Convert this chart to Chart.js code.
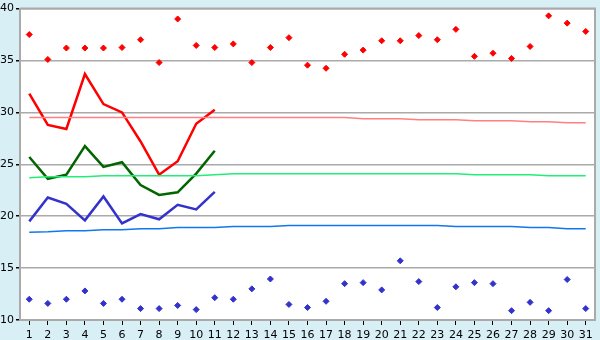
<!DOCTYPE html>
<html>
<head>
<meta charset="utf-8">
<script src="https://cdn.jsdelivr.net/npm/chart.js@4"></script>
<style>
  html, body { margin: 0; padding: 0; background: #d9eff6; }
  #wrap { width: 600px; height: 340px; }
</style>
</head>
<body>
<div id="wrap"><canvas id="tempChart" width="600" height="340"></canvas></div>
<script>
const days = Array.from({ length: 31 }, (_, i) => String(i + 1));

// record highs / lows per day
const recordMax = [37.5, 35.1, 36.2, 36.2, 36.2, 36.25, 37.0, 34.8, 39.0, 36.45, 36.25, 36.6, 34.8, 36.25, 37.2,
  34.55, 34.25, 35.6, 36.0, 36.9, 36.9, 37.4, 37.0, 38.0, 35.4, 35.7, 35.2, 36.35, 39.3, 38.6, 37.8];
const recordMin = [12.0, 11.6, 12.0, 12.8, 11.6, 12.0, 11.1, 11.1, 11.4, 11.0, 12.15, 12.0, 13.0, 13.95, 11.5,
  11.2, 11.8, 13.5, 13.6, 12.9, 15.7, 13.7, 11.2, 13.2, 13.6, 13.5, 10.9, 11.7, 10.9, 13.9, 11.1];

// observed this month (days 1-11)
const obsMax = [31.8, 28.8, 28.4, 33.7, 30.8, 30.0, 27.2, 24.0, 25.3, 28.9, 30.25];
const obsMean = [25.7, 23.6, 24.0, 26.75, 24.75, 25.2, 23.0, 22.05, 22.3, 24.1, 26.3];
const obsMin = [19.5, 21.8, 21.2, 19.6, 21.9, 19.3, 20.2, 19.7, 21.1, 20.65, 22.35];

// normals
const normMax = [29.5, 29.5, 29.5, 29.5, 29.5, 29.5, 29.5, 29.5, 29.5, 29.5, 29.5, 29.5, 29.5, 29.5, 29.5,
  29.5, 29.5, 29.5, 29.4, 29.4, 29.4, 29.3, 29.3, 29.3, 29.2, 29.2, 29.2, 29.1, 29.1, 29.0, 29.0];
const normMean = [23.7, 23.8, 23.8, 23.8, 23.9, 23.9, 23.9, 23.9, 23.9, 23.9, 24.0, 24.1, 24.1, 24.1, 24.1,
  24.1, 24.1, 24.1, 24.1, 24.1, 24.1, 24.1, 24.1, 24.1, 24.0, 24.0, 24.0, 24.0, 23.9, 23.9, 23.9];
const normMin = [18.45, 18.5, 18.6, 18.6, 18.7, 18.7, 18.8, 18.8, 18.9, 18.9, 18.9, 19.0, 19.0, 19.0, 19.1,
  19.1, 19.1, 19.1, 19.1, 19.1, 19.1, 19.1, 19.1, 19.0, 19.0, 19.0, 19.0, 18.9, 18.9, 18.8, 18.8];

const yTicks = [10, 15, 20, 25, 30, 35, 40];

// white plot area + frame
const plotFrame = {
  id: 'plotFrame',
  beforeDraw(chart) {
    const { ctx, chartArea: a } = chart;
    ctx.save();
    ctx.fillStyle = '#ffffff';
    ctx.fillRect(a.left, a.top, a.right - a.left, a.bottom - a.top);
    ctx.restore();
  },
  afterDraw(chart) {
    const { ctx, chartArea: a } = chart;
    ctx.save();
    ctx.strokeStyle = '#aaaaaa';
    ctx.lineWidth = 2;
    ctx.beginPath();
    ctx.moveTo(a.left, a.top);
    ctx.lineTo(a.right, a.top);
    ctx.lineTo(a.right, a.bottom);
    ctx.stroke();
    ctx.restore();
  }
};

function lineSet(data, color, width) {
  return {
    type: 'line', data: data, borderColor: color, backgroundColor: color,
    borderWidth: width, pointRadius: 0, tension: 0, fill: false
  };
}

function dotSet(data, color) {
  return {
    type: 'line', data: data, showLine: false, borderColor: color, backgroundColor: color,
    pointStyle: 'rectRot', pointRadius: 3, pointBorderWidth: 1, pointHoverRadius: 3
  };
}

const ctx = document.getElementById('tempChart').getContext('2d');
new Chart(ctx, {
  type: 'line',
  data: {
    labels: days,
    datasets: [
      lineSet(normMax, '#ff8080', 1.5),
      lineSet(normMean, '#22ee77', 1.5),
      lineSet(normMin, '#1177ee', 1.5),
      lineSet(obsMax, '#ff0000', 2.5),
      lineSet(obsMean, '#006600', 2.5),
      lineSet(obsMin, '#3333cc', 2.5),
      dotSet(recordMax, '#ff0000'),
      dotSet(recordMin, '#3333cc')
    ]
  },
  options: {
    responsive: false,
    animation: false,
    layout: { padding: { top: 5, right: 5, left: 0, bottom: 0 } },
    plugins: { legend: { display: false }, tooltip: { enabled: false } },
    scales: {
      x: {
        offset: true,
        grid: { drawOnChartArea: false, tickColor: '#000000', tickLength: 5, offset: false },
        border: { color: '#aaaaaa', width: 2 },
        ticks: {
          color: '#000000', padding: 4, maxRotation: 0, autoSkip: false,
          font: { family: 'DejaVu Sans', size: 11 }
        },
        afterFit(scale) { scale.height = 20; }
      },
      y: {
        min: 10,
        max: 40,
        afterBuildTicks(scale) { scale.ticks = yTicks.map(v => ({ value: v })); },
        grid: { color: '#aaaaaa', lineWidth: 1.5, tickColor: '#000000', tickLength: 4 },
        border: { color: '#aaaaaa', width: 2 },
        ticks: {
          color: '#000000', padding: 2,
          font: { family: 'DejaVu Sans', size: 11 }
        },
        afterFit(scale) { scale.width = 20; }
      }
    }
  },
  plugins: [plotFrame]
});
</script>
</body>
</html>
